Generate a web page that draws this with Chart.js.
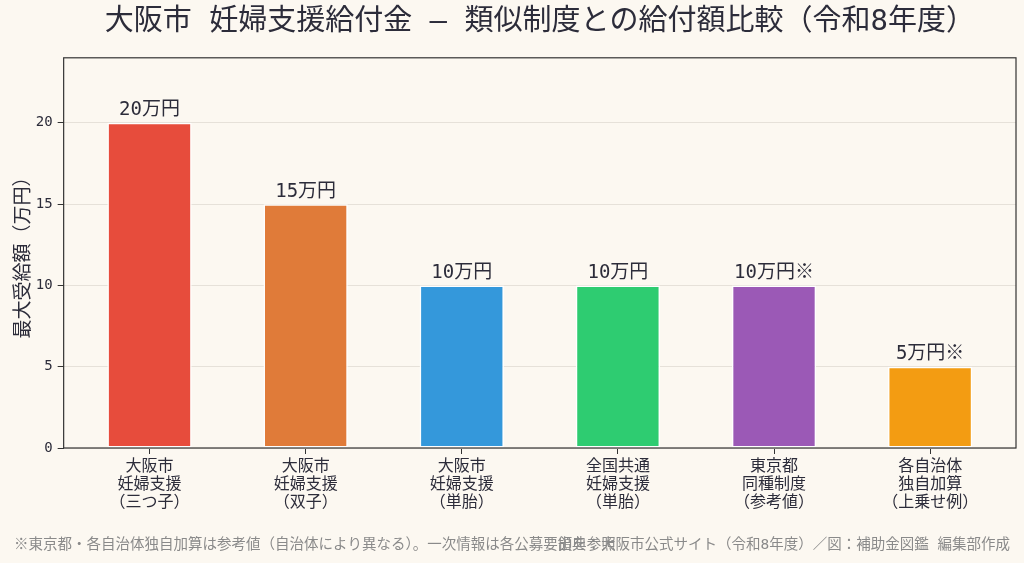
<!DOCTYPE html>
<html>
<head>
<meta charset="utf-8">
<script src="https://cdn.jsdelivr.net/npm/chart.js@4/dist/chart.umd.min.js"></script>
<style>
  html, body { margin: 0; padding: 0; background: #fcf8f1; }
  #wrap { width: 1024px; height: 563px; position: relative; }
</style>
</head>
<body>
<div id="wrap"><canvas id="chartOne" width="1024" height="563"></canvas></div>
<script>
// data
var categories = [
    ['大阪市', '妊婦支援', '（三つ子）'],
    ['大阪市', '妊婦支援', '（双子）'],
    ['大阪市', '妊婦支援', '（単胎）'],
    ['全国共通', '妊婦支援', '（単胎）'],
    ['東京都', '同種制度', '（参考値）'],
    ['各自治体', '独自加算', '（上乗せ例）']
];
var amounts = [20, 15, 10, 10, 10, 5];
var valueLabels = ['20万円', '15万円', '10万円', '10万円', '10万円※', '5万円※'];
var barColors = ['#e74c3c', '#e07b39', '#3498db', '#2ecc71', '#9b59b6', '#f39c12'];
var yTicks = [0, 5, 10, 15, 20];

var FONT = "'DejaVu Sans Mono', 'Noto Sans CJK JP', sans-serif";
var noteLeft = '※東京都・各自治体独自加算は参考値（自治体により異なる）。一次情報は各公募要領を参照';
var noteRight = '出典：大阪市公式サイト（令和8年度）／図：補助金図鑑 編集部作成';

var chartOne = document.getElementById('chartOne');

// bars sit on index positions 0..n-1 of a linear axis, with a small margin each side
var points = amounts.map((v, i) => ({ x: i, y: v }));
var xIdx = categories.map((c, i) => i);

// background, frame, value labels and footer
const extras = {
    id: 'extras',
    beforeDraw: (chart) => {
        const ctx = chart.ctx;
        ctx.save();
        ctx.fillStyle = '#fcf8f1';
        ctx.fillRect(0, 0, chart.width, chart.height);
        ctx.restore();
    },
    afterDraw: (chart) => {
        const ctx = chart.ctx;
        const a = chart.chartArea;
        ctx.save();
        ctx.strokeStyle = '#333333';
        ctx.lineWidth = 1.2;
        ctx.strokeRect(a.left, a.top, a.right - a.left, a.bottom - a.top);

        const meta = chart.getDatasetMeta(0);
        ctx.fillStyle = '#2c2c3a';
        ctx.font = '19px ' + FONT;
        ctx.textAlign = 'center';
        ctx.textBaseline = 'bottom';
        meta.data.forEach((bar, i) => {
            ctx.fillText(valueLabels[i], bar.x, bar.y - 3);
        });

        ctx.fillStyle = '#8a8a8a';
        ctx.font = '14.5px ' + FONT;
        ctx.textBaseline = 'middle';
        ctx.textAlign = 'left';
        ctx.fillText(noteLeft, 14, 545);
        ctx.textAlign = 'right';
        ctx.fillText(noteRight, 1010, 545);
        ctx.restore();
    }
};

var myChart = new Chart(chartOne, {
    type: 'bar',
    data: {
        datasets: [{
            data: points,
            backgroundColor: barColors,
            borderColor: '#ffffff',
            borderWidth: 1.5,
            borderSkipped: false,
            barPercentage: 0.54,
            categoryPercentage: 1.0
        }]
    },
    options: {
        responsive: false,
        animation: false,
        devicePixelRatio: 1,
        layout: { padding: { left: 13, right: 8, top: 0, bottom: 47 } },
        plugins: {
            legend: { display: false },
            tooltip: { enabled: false },
            title: {
                display: true,
                fullSize: false,
                text: '大阪市 妊婦支援給付金 — 類似制度との給付額比較（令和8年度）',
                color: '#2c2c3a',
                font: { family: FONT, size: 29, weight: 'normal' },
                padding: { top: 5, bottom: 18 }
            }
        },
        scales: {
            x: {
                type: 'linear',
                min: -0.55,
                max: categories.length - 0.45,
                offset: false,
                afterBuildTicks: (axis) => {
                    axis.ticks = xIdx.map((v) => ({ value: v }));
                },
                grid: { display: true, drawOnChartArea: false, offset: false, tickLength: 6, color: '#333333' },
                border: { display: false },
                ticks: {
                    color: '#2c2c3a',
                    font: { family: FONT, size: 16, lineHeight: 1.125 },
                    maxRotation: 0,
                    autoSkip: false,
                    padding: 4,
                    callback: (v) => categories[Math.round(v)] || ''
                }
            },
            y: {
                min: 0,
                max: 24,
                afterBuildTicks: (axis) => {
                    axis.ticks = yTicks.map((v) => ({ value: v }));
                },
                afterFit: (axis) => {
                    axis.width -= 5;
                },
                grid: { color: '#e6e1d9', lineWidth: 1, tickColor: '#333333', tickLength: 6 },
                border: { display: false },
                ticks: {
                    color: '#2c2c3a',
                    font: { family: FONT, size: 14 },
                    padding: 5
                },
                title: {
                    display: true,
                    text: '最大受給額（万円）',
                    color: '#2c2c3a',
                    font: { family: FONT, size: 19 },
                    padding: 0
                }
            }
        }
    },
    plugins: [extras]
});
</script>
</body>
</html>
